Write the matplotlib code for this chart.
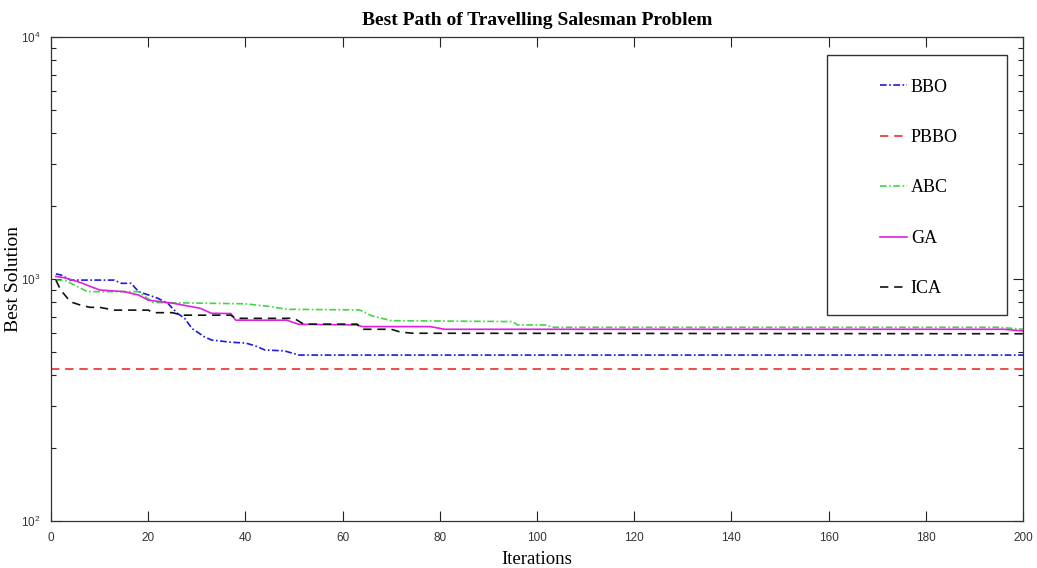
import matplotlib
matplotlib.use("Agg")
import matplotlib.pyplot as plt
from matplotlib.patches import Rectangle
from matplotlib.ticker import LogLocator

# data (iteration, best solution)
bbo_it = [1, 2, 4, 13, 14.5, 16.5, 18, 20, 22, 24, 25, 26, 27.5, 29, 31.5, 33, 37, 40, 42, 44, 48, 51, 200]
bbo_val = [1050, 1040, 990, 990, 960, 960, 887, 860, 832, 795, 757, 722, 688, 625, 578, 560, 548, 544, 530, 509, 505, 485, 485]

pbbo_it = [0, 200]
pbbo_val = [424, 424]

abc_it = [1, 3, 7.5, 18, 21, 40, 45, 48.5, 63.5, 66, 70, 95, 96, 102, 103, 195, 200]
abc_val = [990, 985, 887, 887, 800, 790, 770, 750, 745, 705, 673, 667, 646, 646, 632, 632, 620]

ga_it = [1, 3, 6, 10, 15, 18, 20, 25, 30.7, 33, 37, 38, 48.5, 51, 63, 64, 78, 81, 196, 200]
ga_val = [1025, 1010, 968, 901, 887, 859, 818, 795, 757, 722, 720, 676, 676, 650, 646, 636, 636, 620, 620, 610]

ica_it = [1, 2, 4, 6, 8, 10, 13, 20, 21, 25, 27, 37, 38, 50, 52, 63, 64, 70, 72, 74.5, 200]
ica_val = [990, 900, 805, 781, 764, 764, 744, 744, 726, 726, 709, 709, 688, 688, 651, 651, 620, 620, 603, 597, 594]

serif = ["Times New Roman", "Liberation Serif", "DejaVu Serif"]
plt.rcParams["font.family"] = ["Liberation Sans", "DejaVu Sans"]

fig = plt.figure(figsize=(10.37, 5.68), dpi=100)
ax = fig.add_axes([0.0492, 0.0827, 0.9373, 0.8521])

dashdot = (0, (4, 1.5, 1, 1.5))
dashed = (0, (5, 3.5))
ax.plot(bbo_it, bbo_val, color="#1a1ae0", ls=dashdot, lw=1.2, label="BBO")
ax.plot(pbbo_it, pbbo_val, color="#e8302a", ls=dashed, lw=1.2, label="PBBO")
ax.plot(abc_it, abc_val, color="#3fd83f", ls=dashdot, lw=1.2, label="ABC")
ax.plot(ga_it, ga_val, color="#e020e0", ls="-", lw=1.2, label="GA")
ax.plot(ica_it, ica_val, color="#111111", ls=dashed, lw=1.2, label="ICA")

ax.set_yscale("log")
ax.set_xlim(0, 200)
ax.set_ylim(100, 10000)
ax.set_xticks(range(0, 201, 20))
ax.yaxis.set_major_locator(LogLocator(base=10))
ax.yaxis.set_minor_locator(LogLocator(base=10, subs=range(2, 10)))

ax.tick_params(which="both", direction="in", top=True, right=True, labelsize=8.5,
               colors="#222222", labelcolor="#333333")
ax.tick_params(which="major", length=7, width=0.8)
ax.tick_params(which="minor", length=3.5, width=0.8)
ax.tick_params(axis="x", which="minor", top=False, bottom=False)
ax.tick_params(axis="x", pad=8)
ax.tick_params(axis="y", pad=7.5)
for s in ax.spines.values():
    s.set_color("#333333")
    s.set_linewidth(0.9)

ax.set_title("Best Path of Travelling Salesman Problem", family=serif,
             fontsize=14, fontweight="bold", pad=9)
ax.set_xlabel("Iterations", family=serif, fontsize=13.5, labelpad=5)
ax.set_ylabel("Best Solution", family=serif, fontsize=14, labelpad=-1)

# legend box like the matlab one
ax.add_patch(Rectangle((0.798, 0.4256), 0.1855, 0.5372, transform=ax.transAxes,
                       fill=False, edgecolor="#333333", lw=1.0, zorder=5))
ax.legend(loc="upper left", bbox_to_anchor=(0.853, 0.914), frameon=False,
          prop={"family": serif, "size": 13}, handlelength=1.5, handletextpad=0.2,
          labelspacing=1.85, borderpad=0, borderaxespad=0)

fig.savefig("out.png", dpi=100)
